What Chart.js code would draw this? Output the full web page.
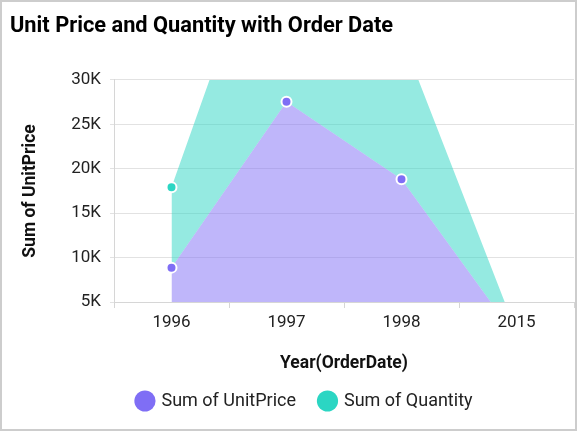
<!DOCTYPE html>
<html>
<head>
<meta charset="utf-8">
<script src="https://cdn.jsdelivr.net/npm/chart.js@4.4.1/dist/chart.umd.min.js"></script>
<style>
  html, body { margin: 0; padding: 0; background: #fff; }
  #box { width: 577px; height: 431px; box-sizing: border-box; border: 2px solid #cdcdcd; }
  #box canvas { display: block; }
</style>
</head>
<body>
<div id="box"><canvas id="chart" width="573" height="427"></canvas></div>
<script>
// values
const years = ['1996', '1997', '1998', '2015']
const unitPrice = [8870, 27550, 18830, 1000]
const quantity = [17930, 54450, 34900, 1580]

const purple = '#7f6ef5'
const teal = '#2bd6c3'
const gridColor = '#e2e2e2'

Chart.defaults.font.family = 'Roboto'
Chart.defaults.color = '#222'

const kLabel = v => (v / 1000) + 'K'

// nudge the legend a bit right, the reference doesn't center it exactly
const legendShift = {
  id: 'legendShift',
  afterLayout(chart) {
    chart.legend.left += 26
  }
}

new Chart(document.getElementById('chart'), {
  type: 'line',
  data: {
    labels: years,
    datasets: [{
      label: 'Sum of UnitPrice',
      data: unitPrice,
      fill: 'origin',
      backgroundColor: 'rgba(127,110,245,0.5)',
      borderColor: 'transparent',
      pointBackgroundColor: purple,
      pointBorderColor: '#fff',
      pointBorderWidth: 2,
      pointRadius: 5,
      tension: 0
    }, {
      label: 'Sum of Quantity',
      data: quantity,
      fill: '-1',
      backgroundColor: 'rgba(43,214,195,0.5)',
      borderColor: 'transparent',
      pointBackgroundColor: teal,
      pointBorderColor: '#fff',
      pointBorderWidth: 2,
      pointRadius: 5,
      tension: 0
    }]
  },
  plugins: [legendShift],
  options: {
    responsive: false,
    animation: false,
    // autoPadding would keep 7px free on the right for the point radius
    layout: { autoPadding: false, padding: { left: 8, right: 1, top: 0, bottom: 9 } },
    plugins: {
      title: {
        display: true,
        text: 'Unit Price and Quantity with Order Date',
        align: 'start',
        color: '#000',
        font: { size: 21.8, weight: 'bold' },
        padding: { top: 11, bottom: 40.8 }
      },
      legend: {
        position: 'bottom',
        labels: {
          usePointStyle: true,
          pointStyle: 'circle',
          boxWidth: 15,
          boxHeight: 15,
          padding: 24,
          font: { size: 18 },
          color: '#222',
          generateLabels: chart => {
            const items = Chart.defaults.plugins.legend.labels.generateLabels(chart)
            const solid = [purple, teal]
            items.forEach((it, i) => {
              it.fillStyle = solid[i]
              it.strokeStyle = solid[i]
              it.lineWidth = 0
            })
            return items
          }
        }
      },
      tooltip: { enabled: false }
    },
    scales: {
      x: {
        offset: true,
        afterFit: scale => {
          scale.height = 66
          scale.paddingLeft = 0
          scale.paddingRight = 0
        },
        grid: {
          offset: true,
          tickLength: 6,
          color: ctx => ctx.index === years.length ? gridColor : 'transparent',
          tickColor: '#d6d6d6'
        },
        border: { color: '#d6d6d6' },
        ticks: { font: { size: 17 }, padding: 5, color: '#222' },
        title: {
          display: true,
          text: 'Year(OrderDate)',
          color: '#111',
          font: { size: 17.5, weight: 'bold' },
          padding: { top: 0, bottom: -6 }
        }
      },
      y: {
        min: 5000,
        max: 30000,
        afterFit: scale => { scale.width = 104 },
        grid: { color: gridColor, tickLength: 4 },
        border: { color: '#d6d6d6' },
        ticks: { stepSize: 5000, callback: kLabel, font: { size: 17 }, padding: 9, color: '#222' },
        title: {
          display: true,
          text: 'Sum of UnitPrice',
          color: '#111',
          font: { size: 17.5, weight: 'bold' },
          padding: { top: 10.5, bottom: 0 }
        }
      }
    }
  }
})
</script>
</body>
</html>
